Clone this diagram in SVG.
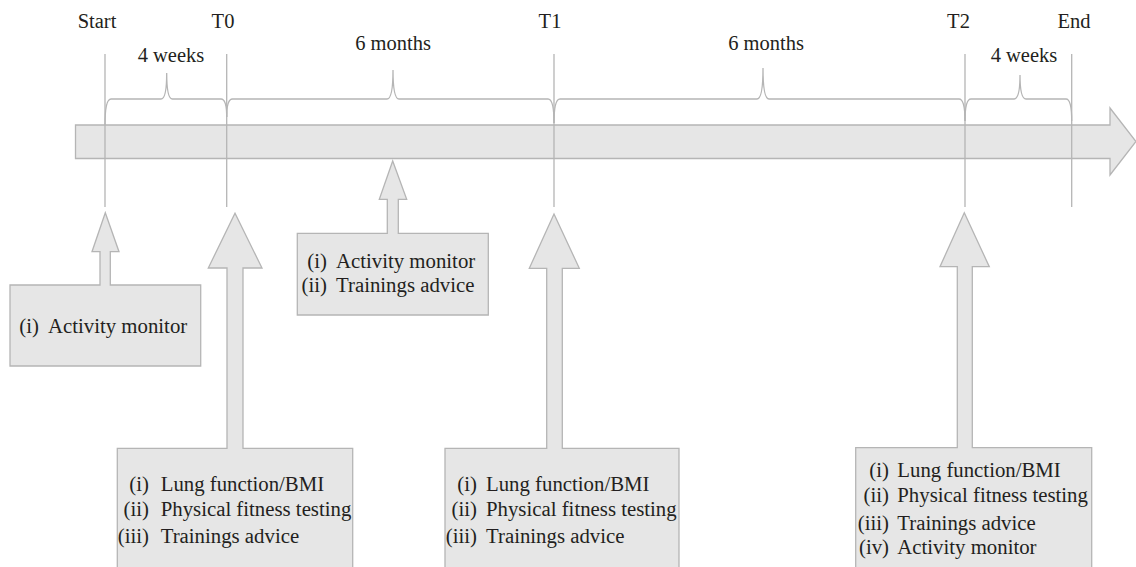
<svg xmlns="http://www.w3.org/2000/svg" width="1136" height="567" viewBox="0 0 1136 567">
<style>
.shape{fill:#e6e6e6;stroke:#b5b5b5;stroke-width:1.3}
.line{fill:none;stroke:#b5b5b5;stroke-width:1.3}
text{font-family:"Liberation Serif","Times New Roman",serif;font-size:20.8px;fill:#231f20}
.top{font-size:20.5px}
.c{text-anchor:middle}
.e{text-anchor:end}
</style>
<rect width="1136" height="567" fill="#ffffff"/>
<g id="timeline">
<path class="shape" d="M75.5,125 H1110 V108 L1136,141.5 L1110,175 V158.5 H75.5 Z"/>
</g>
<g id="connectors">
<path class="line" d="M105,54 V207 M226.7,54 V207 M554,54 V207 M965,54 V207 M1071.7,54 V207"/>
<path class="line" d="M105,125 Q105,99 111,99 H161 Q166.7,99 166.7,73 Q166.7,99 172.4,99 H221 Q226.7,99 226.7,117"/>
<path class="line" d="M226.7,117 Q226.7,99 232.5,99 H387 Q393,99 393,70 Q393,99 399,99 H548 Q554,99 554,123"/>
<path class="line" d="M554,123 Q554,99 560,99 H757 Q763,99 763,68 Q763,99 769,99 H959 Q965,99 965,121"/>
<path class="line" d="M965,121 Q965,99 971,99 H1014 Q1020,99 1020,75 Q1020,99 1026,99 H1066 Q1071.7,99 1071.7,121"/>
</g>
<g id="labels">
<text class="c top" x="97" y="28">Start</text>
<text class="c top" x="223" y="28">T0</text>
<text class="c top" x="550" y="28">T1</text>
<text class="c top" x="958.5" y="28">T2</text>
<text class="c top" x="1074" y="28">End</text>
<text class="c top" x="171" y="62">4 weeks</text>
<text class="c top" x="393" y="50">6 months</text>
<text class="c top" x="766" y="50">6 months</text>
<text class="c top" x="1024" y="62">4 weeks</text>
</g>
<g id="node-start">
<path class="shape" d="M10,285 H100 V251.7 H92 L105.3,212.7 L119,251.7 H110.3 V285 H200.7 V366 H10 Z"/>
<text class="e" x="39" y="333">(i)</text>
<text x="48" y="333">Activity monitor</text>
</g>
<g id="node-t0">
<path class="shape" d="M117.3,448.3 H227 V268 H208.3 L235,213.3 L262,268 H243 V448.3 H352.7 V580 H117.3 Z"/>
<text class="e" x="149" y="491">(i)</text>
<text x="160.7" y="491">Lung function/BMI</text>
<text class="e" x="149" y="516">(ii)</text>
<text x="160.7" y="516">Physical fitness testing</text>
<text class="e" x="149" y="543">(iii)</text>
<text x="160.7" y="543">Trainings advice</text>
</g>
<g id="node-mid">
<path class="shape" d="M297.3,233.3 H387.3 V199.3 H379.3 L392.7,161 L406.7,199.3 H398.3 V233.3 H488.3 V315 H297.3 Z"/>
<text class="e" x="327" y="268">(i)</text>
<text x="336" y="268">Activity monitor</text>
<text class="e" x="327" y="292">(ii)</text>
<text x="336" y="292">Trainings advice</text>
</g>
<g id="node-t1">
<path class="shape" d="M445,448.3 H546.7 V268.3 H529.3 L554,214 L579.3,268.3 H562.3 V448.3 H679 V580 H445 Z"/>
<text class="e" x="477" y="491">(i)</text>
<text x="486" y="491">Lung function/BMI</text>
<text class="e" x="477" y="516">(ii)</text>
<text x="486" y="516">Physical fitness testing</text>
<text class="e" x="477" y="543">(iii)</text>
<text x="486" y="543">Trainings advice</text>
</g>
<g id="node-t2">
<path class="shape" d="M855.7,447.7 H957.3 V266.7 H940 L964.3,212.7 L989.3,266.7 H972.3 V447.7 H1091.7 V580 H855.7 Z"/>
<text class="e" x="889" y="477">(i)</text>
<text x="897.3" y="477">Lung function/BMI</text>
<text class="e" x="889" y="502">(ii)</text>
<text x="897.3" y="502">Physical fitness testing</text>
<text class="e" x="889" y="530">(iii)</text>
<text x="897.3" y="530">Trainings advice</text>
<text class="e" x="889" y="554">(iv)</text>
<text x="897.3" y="554">Activity monitor</text>
</g>
</svg>
